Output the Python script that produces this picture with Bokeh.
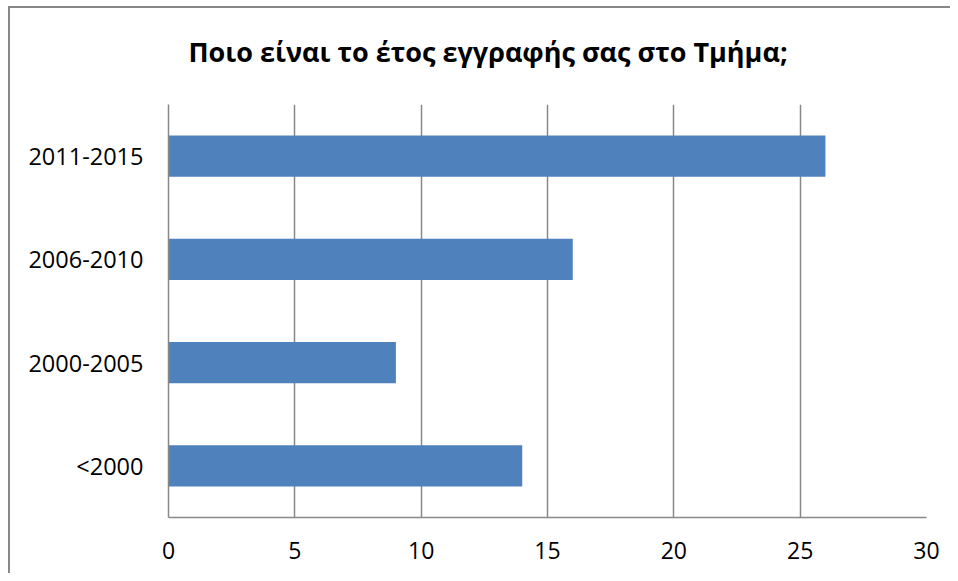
from bokeh.plotting import figure
from bokeh.models import FactorRange, Range1d, FixedTicker, InlineStyleSheet
from bokeh.embed import file_html
from bokeh.resources import INLINE

categories = ["<2000", "2000-2005", "2006-2010", "2011-2015"]
values = [14, 9, 16, 26]
x_ticks = [0, 5, 10, 15, 20, 25, 30]

p = figure(width=950, height=573, output_backend="svg", toolbar_location=None,
           y_range=FactorRange(factors=categories, range_padding=0),
           x_range=Range1d(0, 30),
           min_border_left=168, min_border_right=24, min_border_top=100, min_border_bottom=56,
           title="Ποιο είναι το έτος εγγραφής σας στο Τμήμα;")

border_css = (":host{position:relative;overflow:hidden;}"
              ":host::after{content:'';position:absolute;left:8px;top:6px;"
              "width:1200px;height:1200px;border:2.5px solid #888888;"
              "box-sizing:border-box;pointer-events:none;}")
p.stylesheets = [InlineStyleSheet(css=border_css)]

p.hbar(y=categories, right=values, height=0.4, left=0, fill_color="#4F81BD", line_color=None)

p.title.text_font = "Open Sans"
p.title.text_font_size = "27px"
p.title.text_font_style = "bold"
p.title.text_color = "#000000"
p.title.align = "left"
p.title.offset = 20
p.title.standoff = 65
p.title.vertical_align = "top"

p.outline_line_color = None
p.ygrid.grid_line_color = None
p.xgrid.grid_line_color = "#888888"
p.xgrid.grid_line_width = 1.5
p.xgrid.ticker = FixedTicker(ticks=x_ticks)

p.xaxis.ticker = FixedTicker(ticks=x_ticks)
p.xaxis.axis_line_color = "#888888"
p.xaxis.axis_line_width = 1.5
p.xaxis.major_tick_line_color = None
p.xaxis.minor_tick_line_color = None
p.xaxis.major_label_text_font = "Open Sans"
p.xaxis.major_label_text_font_size = "23px"
p.xaxis.major_label_text_color = "#000000"
p.xaxis.major_label_standoff = 18

p.yaxis.axis_line_color = "#888888"
p.yaxis.axis_line_width = 1.5
p.yaxis.major_tick_line_color = None
p.yaxis.minor_tick_line_color = None
p.yaxis.major_label_text_font = "Open Sans"
p.yaxis.major_label_text_font_size = "23.5px"
p.yaxis.major_label_text_color = "#000000"
p.yaxis.major_label_standoff = 19

open("out.html", "w").write(file_html(p, INLINE))
